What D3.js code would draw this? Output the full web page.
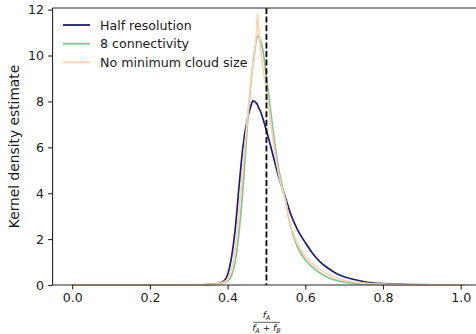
<!DOCTYPE html>
<html><head><meta charset="utf-8">
<script src="https://cdn.jsdelivr.net/npm/d3@7"></script>
<style>body{margin:0;background:#fff}svg{display:block}text{font-family:"DejaVu Sans",sans-serif}</style>
</head><body>
<script>
const xGrid = [0, 0.1, 0.2, 0.3, 0.35, 0.37, 0.38, 0.39, 0.40, 0.41, 0.42, 0.43, 0.44, 0.45, 0.46, 0.465, 0.47, 0.475, 0.477, 0.48, 0.485, 0.49, 0.50, 0.51, 0.52, 0.53, 0.54, 0.55, 0.56, 0.58, 0.60, 0.62, 0.64, 0.66, 0.68, 0.70, 0.72, 0.76, 0.80, 0.88, 0.95, 1.01];
const halfRes = [0, 0, 0, 0.005, 0.02, 0.05, 0.09, 0.16, 0.45, 1.2, 2.5, 4.4, 6.1, 7.15, 7.8, 8.02, 8.0, 7.9, 7.85, 7.72, 7.55, 7.3, 6.73, 6.1, 5.45, 4.8, 4.25, 3.75, 3.2, 2.4, 1.85, 1.35, 0.98, 0.72, 0.5, 0.36, 0.26, 0.12, 0.06, 0.02, 0.01, 0.005];
const conn8 = [0, 0, 0, 0.003, 0.01, 0.03, 0.05, 0.1, 0.17, 0.4, 1.05, 2.4, 4.3, 6.75, 8.8, 9.6, 10.25, 10.72, 10.8, 10.83, 10.65, 10.3, 9.05, 7.68, 6.36, 5.2, 4.35, 3.6, 2.7, 1.65, 1.1, 0.75, 0.5, 0.32, 0.2, 0.13, 0.08, 0.04, 0.02, 0.01, 0.005, 0.003];
const noMinSize = [0, 0, 0, 0.004, 0.015, 0.04, 0.07, 0.12, 0.25, 0.7, 1.65, 3.3, 5.2, 7.1, 8.9, 9.5, 10.1, 11.2, 11.82, 11.2, 10.2, 9.55, 8.47, 7.2, 5.95, 4.95, 4.2, 3.6, 2.75, 1.8, 1.25, 0.9, 0.65, 0.45, 0.3, 0.2, 0.14, 0.07, 0.04, 0.015, 0.008, 0.004];
const seriesNames = ["Half resolution", "8 connectivity", "No minimum cloud size"];
const seriesColors = ["#1f1c78", "#86c48f", "#fdd3b0"];
const xTicks = [0, 0.2, 0.4, 0.6, 0.8, 1.0];
const yTicks = [0, 2, 4, 6, 8, 10, 12];
const refLine = 0.5;

const W = 476, H = 334;
const svg = d3.select("body").append("svg").attr("width", W).attr("height", H);
const x = d3.scaleLinear().domain([0, 1]).range([72.2, 460.7]);
const y = d3.scaleLinear().domain([0, 12.07]).range([285, 8]);
const pLeft = x(-0.0505), pRight = x(1.07), pTop = 8, pBottom = 285;

const series = [halfRes, conn8, noMinSize];
const line = d3.line().x((d, i) => x(xGrid[i])).y(d => y(d)).curve(d3.curveMonotoneX);
series.forEach((s, k) => {
  svg.append("path").datum(s).attr("d", line).attr("fill", "none")
    .attr("stroke", seriesColors[k]).attr("stroke-width", 1.7).attr("stroke-linejoin", "round");
});

svg.append("line").attr("x1", x(refLine)).attr("x2", x(refLine)).attr("y1", pTop).attr("y2", pBottom)
  .attr("stroke", "#000").attr("stroke-width", 1.8).attr("stroke-dasharray", "6,2.6");

// frame
const fc = "#262626";
svg.append("line").attr("x1", pLeft).attr("x2", pLeft).attr("y1", pTop).attr("y2", pBottom).attr("stroke", fc).attr("stroke-width", 1.1);
svg.append("line").attr("x1", pLeft).attr("x2", pRight).attr("y1", pBottom).attr("y2", pBottom).attr("stroke", fc).attr("stroke-width", 1.1);
svg.append("line").attr("x1", pLeft).attr("x2", pRight).attr("y1", pTop).attr("y2", pTop).attr("stroke", fc).attr("stroke-width", 1.1);

const xAxis = svg.append("g").attr("transform", `translate(0,${pBottom})`)
  .call(d3.axisBottom(x).tickValues(xTicks).tickFormat(d3.format(".1f")).tickSize(4.5).tickPadding(4));
const yAxis = svg.append("g").attr("transform", `translate(${pLeft},0)`)
  .call(d3.axisLeft(y).tickValues(yTicks).tickFormat(d3.format("d")).tickSize(4.5).tickPadding(4));
[xAxis, yAxis].forEach(g => {
  g.select(".domain").remove();
  g.selectAll(".tick line").attr("stroke", fc).attr("stroke-width", 1.1);
  g.selectAll(".tick text").attr("fill", "#1a1a1a").style("font-size", "12.6px").style("font-family", "DejaVu Sans");
});

svg.append("text").attr("transform", `translate(18.5,${(pTop + pBottom) / 2}) rotate(-90)`)
  .attr("text-anchor", "middle").style("font-size", "13.8px").attr("fill", "#1a1a1a").text("Kernel density estimate");

// x label fraction
const cx = x(refLine);
const num = svg.append("text").attr("x", cx).attr("y", 318).attr("text-anchor", "middle").style("font-size", "9px").attr("fill", "#1a1a1a");
num.append("tspan").style("font-style", "italic").text("f");
num.append("tspan").style("font-style", "italic").style("font-size", "6.5px").attr("dy", 2).text("A");
svg.append("line").attr("x1", cx - 13.5).attr("x2", cx + 13.5).attr("y1", 322.3).attr("y2", 322.3).attr("stroke", "#1a1a1a").attr("stroke-width", 0.7);
const den = svg.append("text").attr("x", cx).attr("y", 331).attr("text-anchor", "middle").style("font-size", "9px").attr("fill", "#1a1a1a");
den.append("tspan").style("font-style", "italic").text("f");
den.append("tspan").style("font-style", "italic").style("font-size", "6.5px").attr("dy", 2).text("A");
den.append("tspan").attr("dy", -2).text(" + ");
den.append("tspan").style("font-style", "italic").text("f");
den.append("tspan").style("font-style", "italic").style("font-size", "6.5px").attr("dy", 2).text("B");

// legend
seriesNames.forEach((n, k) => {
  const yy = 25 + k * 18.7;
  svg.append("line").attr("x1", 63).attr("x2", 90).attr("y1", yy).attr("y2", yy)
    .attr("stroke", seriesColors[k]).attr("stroke-width", 1.8);
  svg.append("text").attr("x", 100).attr("y", yy + 4.5).style("font-size", "12.6px").attr("fill", "#1a1a1a").text(n);
});
</script>
</body></html>
